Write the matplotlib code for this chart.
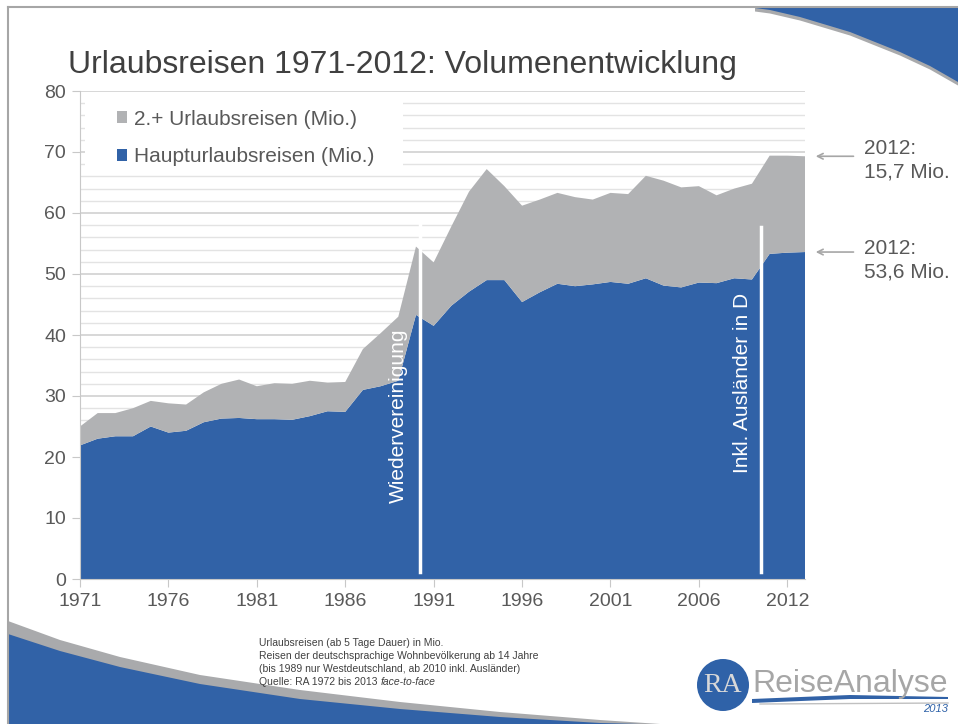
import numpy as np
import matplotlib
matplotlib.use("Agg")
import matplotlib.pyplot as plt
from matplotlib.patches import Patch, Polygon, Circle, Rectangle
from matplotlib.ticker import MultipleLocator

plt.rcParams['font.family'] = ['Liberation Sans', 'DejaVu Sans']

# Data (Mio. Reisen)
years = list(range(1971, 2013))
haupt = [21.9, 23.0, 23.4, 23.4, 25.0, 24.0, 24.3, 25.7, 26.3, 26.4,
         26.2, 26.2, 26.1, 26.7, 27.5, 27.4, 31.0, 31.6, 32.5, 43.3,
         41.5, 44.8, 47.1, 49.0, 49.0, 45.4, 47.0, 48.4, 48.0, 48.3,
         48.7, 48.4, 49.3, 48.1, 47.8, 48.6, 48.5, 49.3, 49.1, 53.3,
         53.5, 53.6]
weitere = [3.1, 4.2, 3.8, 4.6, 4.2, 4.8, 4.3, 4.9, 5.7, 6.3,
           5.4, 5.9, 5.9, 5.8, 4.7, 4.9, 6.7, 8.7, 10.5, 11.2,
           10.4, 13.0, 16.4, 18.2, 15.4, 15.8, 15.2, 14.9, 14.6, 13.9,
           14.6, 14.7, 16.8, 17.2, 16.4, 15.8, 14.4, 14.7, 15.7, 16.1,
           15.9, 15.7]
xtick_pos = [1971, 1976, 1981, 1986, 1991, 1996, 2001, 2006, 2011]
xtick_labels = ["1971", "1976", "1981", "1986", "1991", "1996", "2001", "2006", "2012"]
series_labels = ["Haupturlaubsreisen (Mio.)", "2.+ Urlaubsreisen (Mio.)"]

BLUE = "#3162a7"
GREY = "#b1b2b4"
TEXT = "#595959"

fig = plt.figure(figsize=(9.58, 7.24), dpi=100)

##############################################################################
# slide decoration (pixel coordinates)
##############################################################################
bg = fig.add_axes([0, 0, 1, 1], zorder=-5)
bg.set_xlim(0, 958)
bg.set_ylim(724, 0)
bg.axis("off")

tr_curve = [(958, 82), (930, 66), (900, 52), (850, 32), (800, 17), (770, 10), (755, 8)]
bg.add_patch(Polygon([(755, 8), (958, 8), (958, 86)] + [(x, y + 3.5) for x, y in tr_curve],
                     closed=True, fc="#a9aaac", ec="none"))
bg.add_patch(Polygon([(755, 8), (958, 8)] + tr_curve, closed=True, fc=BLUE, ec="none"))

bl_grey = [(8, 621), (60, 640), (120, 657), (200, 675), (300, 690), (400, 702),
           (500, 712), (600, 720), (660, 724)]
bl_blue = [(8, 634), (60, 651), (120, 667), (200, 684), (300, 699), (400, 709),
           (500, 717), (600, 723), (640, 724)]
bg.add_patch(Polygon(bl_grey + [(8, 724)], closed=True, fc="#a9aaac", ec="none"))
bg.add_patch(Polygon(bl_blue + [(8, 724)], closed=True, fc=BLUE, ec="none"))

bg.plot([8, 958], [7, 7], color="#a6a6a6", lw=1.5)
bg.plot([8, 8], [7, 724], color="#a6a6a6", lw=1.5)

# logo
bg.add_patch(Circle((723, 685), 26, fc="#2f62a8", ec="none"))
bg.text(723, 686, "RA", ha="center", va="center", fontsize=20, color="#d8d8d8",
        family="Liberation Serif")
bg.text(752, 692, "ReiseAnalyse", ha="left", va="baseline", fontsize=23, color="#a6a6a6")
bg.add_patch(Polygon([(752, 699), (850, 695), (948, 697), (948, 699), (850, 699), (752, 703)],
                     closed=True, fc=BLUE, ec="none"))
bg.plot([760, 948], [704, 703], color="#c0c0c0", lw=1)
bg.text(948, 712, "2013", ha="right", va="baseline", fontsize=8, style="italic",
        color="#2f62a8")

# footer notes
notes = ["Urlaubsreisen (ab 5 Tage Dauer) in Mio.",
         "Reisen der deutschsprachige Wohnbevölkerung ab 14 Jahre",
         "(bis 1989 nur Westdeutschland, ab 2010 inkl. Ausländer)"]
for i, line in enumerate(notes):
    bg.text(259, 646 + i * 13, line, fontsize=7.5, color="#404040", va="baseline")
t = bg.text(259, 685, "Quelle: RA 1972 bis 2013 ", fontsize=7.5, color="#404040", va="baseline")
fig.canvas.draw()
bb = t.get_window_extent()
bg.text(259 + bb.width, 685, "face-to-face", fontsize=7.5, color="#404040",
        va="baseline", style="italic")

# title
bg.text(68, 73, "Urlaubsreisen 1971-2012: Volumenentwicklung", fontsize=23,
        color="#404040", va="baseline")

##############################################################################
# chart
##############################################################################
ax = fig.add_axes([80 / 958, 1 - 579 / 724, 725 / 958, 488 / 724])
ax.patch.set_alpha(0)
ax.stackplot(years, haupt, weitere, colors=[BLUE, GREY], lw=0, zorder=2)

ax.set_xlim(1971, 2012)
ax.set_ylim(0, 80)
ax.set_yticks(range(0, 81, 10))
ax.yaxis.set_minor_locator(MultipleLocator(2))
ax.set_xticks(xtick_pos)
ax.set_xticklabels(xtick_labels)
ax.set_axisbelow(True)
ax.grid(which="major", axis="y", color="#d4d4d4", lw=1.3)
ax.grid(which="minor", axis="y", color="#e3e3e3", lw=1)
ax.tick_params(which="major", labelsize=14, colors=TEXT, length=6, color="#c8c8c8", pad=4)
ax.tick_params(which="minor", length=0)
for s in ["top", "right"]:
    ax.spines[s].set_visible(False)
for s in ["left", "bottom"]:
    ax.spines[s].set_color("#c8c8c8")

# markers for data breaks
ax.plot([1990.2, 1990.2], [1.1, 58.4], color="white", lw=2.5, zorder=3)
ax.plot([2009.5, 2009.5], [1.1, 57.7], color="white", lw=2.5, zorder=3)
ax.text(1989.0, 26.7, "Wiedervereinigung", rotation=90, color="white", fontsize=15,
        ha="center", va="center", zorder=4)
ax.text(2008.45, 32.1, "Inkl. Ausländer in D", rotation=90, color="white", fontsize=15,
        ha="center", va="center", zorder=4)

# 2012 annotations
total_2012 = haupt[-1] + weitere[-1]
for yv, val, off in [(total_2012, weitere[-1], -0.6), (haupt[-1], haupt[-1], -1.4)]:
    ax.annotate("", xy=(2012.45, yv), xytext=(2014.9, yv), annotation_clip=False,
                arrowprops=dict(arrowstyle="->", color="#a6a6a6", lw=1.2))
    ax.text(2015.35, yv + off, "2012:\n%s Mio." % f"{val:.1f}".replace(".", ","),
            fontsize=15, color=TEXT, va="center", ha="left", linespacing=1.3,
            clip_on=False)

# legend on a white box that hides the gridlines
ax.add_patch(Rectangle((0.007, 0.832), 0.439, 0.16, transform=ax.transAxes,
                       fc="white", ec="none", zorder=1))
handles = [Patch(fc=GREY, ec="none"), Patch(fc=BLUE, ec="none")]
leg = ax.legend(handles, [series_labels[1], series_labels[0]], loc="upper left",
                bbox_to_anchor=(0.051, 0.962), fontsize=15, frameon=False,
                handlelength=0.48, handleheight=0.48, handletextpad=0.35,
                labelspacing=0.9, borderpad=0, borderaxespad=0)
for txt in leg.get_texts():
    txt.set_color(TEXT)

fig.savefig("out.png", dpi=100)
